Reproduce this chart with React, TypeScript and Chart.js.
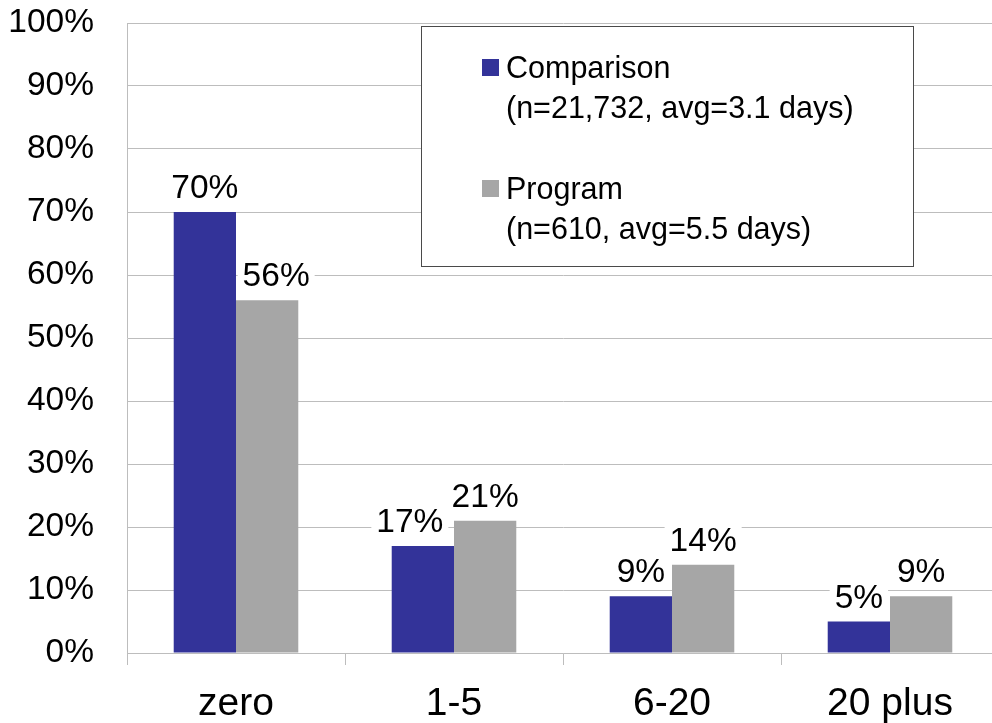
import React, { useEffect, useRef } from 'react';
import { Chart, registerables } from 'chart.js';

Chart.register(...registerables);

// Share of cases by number of days, two groups
const categories = ['zero', '1-5', '6-20', '20 plus'];
const comparisonValues = [70, 17, 9, 5];
const programValues = [56, 21, 14, 9];
const seriesNames = ['Comparison', 'Program'];
const seriesNotes = ['(n=21,732, avg=3.1 days)', '(n=610, avg=5.5 days)'];
const seriesColors = ['#333399', '#a6a6a6'];

const FONT = '"Liberation Sans", Arial, Helvetica, sans-serif';
const GRID = '#bdbdbd';

// Percent labels above every bar, on a white backing so gridlines are hidden behind the text
const valueLabels = {
  id: 'valueLabels',
  afterDatasetsDraw(chart: any) {
    const ctx = chart.ctx as CanvasRenderingContext2D;
    // small horizontal shifts that keep neighbouring labels apart
    const shift = (di: number, i: number) => {
      if (di === 0 && i === 1) return -13;
      if (di === 1 && i === 0) return 9;
      return 0;
    };
    ctx.save();
    ctx.font = `33.5px ${FONT}`;
    ctx.textAlign = 'center';
    ctx.textBaseline = 'alphabetic';
    const items: { text: string; x: number; y: number; w: number }[] = [];
    chart.data.datasets.forEach((ds: any, di: number) => {
      const meta = chart.getDatasetMeta(di);
      meta.data.forEach((bar: any, i: number) => {
        const text = `${Math.round(ds.data[i])}%`;
        const x = bar.x + shift(di, i);
        const y = bar.y - 14;
        items.push({ text, x, y, w: ctx.measureText(text).width });
      });
    });
    ctx.fillStyle = '#ffffff';
    items.forEach((it) => ctx.fillRect(it.x - it.w / 2 - 5, it.y - 29, it.w + 10, 35));
    ctx.fillStyle = '#000000';
    items.forEach((it) => ctx.fillText(it.text, it.x, it.y));
    ctx.restore();
  },
};

// Boxed legend with a note line under each series name
const notedLegend = {
  id: 'notedLegend',
  afterDraw(chart: any) {
    const ctx = chart.ctx as CanvasRenderingContext2D;
    const boxX = 421;
    const boxY = 26;
    const boxW = 493;
    const boxH = 241;
    ctx.save();
    ctx.fillStyle = '#ffffff';
    ctx.fillRect(boxX, boxY, boxW, boxH);
    ctx.strokeStyle = '#4a4a4a';
    ctx.lineWidth = 1;
    ctx.strokeRect(boxX + 0.5, boxY + 0.5, boxW - 1, boxH - 1);
    ctx.font = `30.5px ${FONT}`;
    ctx.textAlign = 'left';
    ctx.textBaseline = 'alphabetic';
    chart.data.datasets.forEach((ds: any, di: number) => {
      const top = 59 + di * 121;
      ctx.fillStyle = ds.backgroundColor;
      ctx.fillRect(482, top, 17, 17);
      ctx.fillStyle = '#000000';
      ctx.fillText(ds.label, 506, top + 19);
      ctx.fillText(seriesNotes[di], 506, top + 59);
    });
    ctx.restore();
  },
};

export default function App() {
  const canvasRef = useRef<HTMLCanvasElement | null>(null);

  useEffect(() => {
    if (!canvasRef.current) return;
    const chart = new Chart(canvasRef.current, {
      type: 'bar',
      data: {
        labels: categories,
        datasets: [
          { label: seriesNames[0], data: comparisonValues, backgroundColor: seriesColors[0], borderWidth: 0 },
          { label: seriesNames[1], data: programValues, backgroundColor: seriesColors[1], borderWidth: 0 },
        ],
      },
      options: {
        responsive: true,
        maintainAspectRatio: false,
        animation: false,
        layout: { padding: { top: 23, right: 1, left: 0, bottom: 0 } },
        datasets: { bar: { categoryPercentage: 0.5714, barPercentage: 1 } },
        plugins: {
          legend: { display: false },
          tooltip: { enabled: false },
        },
        scales: {
          x: {
            grid: { offset: true, drawOnChartArea: false, tickLength: 12, color: GRID },
            border: { color: GRID },
            ticks: { font: { size: 39, family: FONT }, color: '#000000', padding: 16, maxRotation: 0 },
            afterFit: (s: any) => {
              s.height = 70;
              s.paddingLeft = 0;
              s.paddingRight = 0;
            },
          },
          y: {
            min: 0,
            max: 100,
            grid: { color: GRID, drawTicks: false },
            border: { color: GRID },
            ticks: {
              stepSize: 10,
              callback: (v: any) => `${v}%`,
              font: { size: 33.5, family: FONT },
              color: '#000000',
              padding: 33,
            },
            afterFit: (s: any) => {
              s.width = 127;
              s.paddingTop = 0;
              s.paddingBottom = 0;
            },
          },
        },
      },
      plugins: [valueLabels, notedLegend],
    });
    return () => chart.destroy();
  }, []);

  return (
    <div
      style={{
        position: 'fixed',
        left: 0,
        top: 0,
        width: 992,
        height: 723,
        overflow: 'hidden',
        background: '#ffffff',
      }}
    >
      <div style={{ position: 'relative', width: 1000, height: 723 }}>
        <canvas ref={canvasRef} />
      </div>
    </div>
  );
}
